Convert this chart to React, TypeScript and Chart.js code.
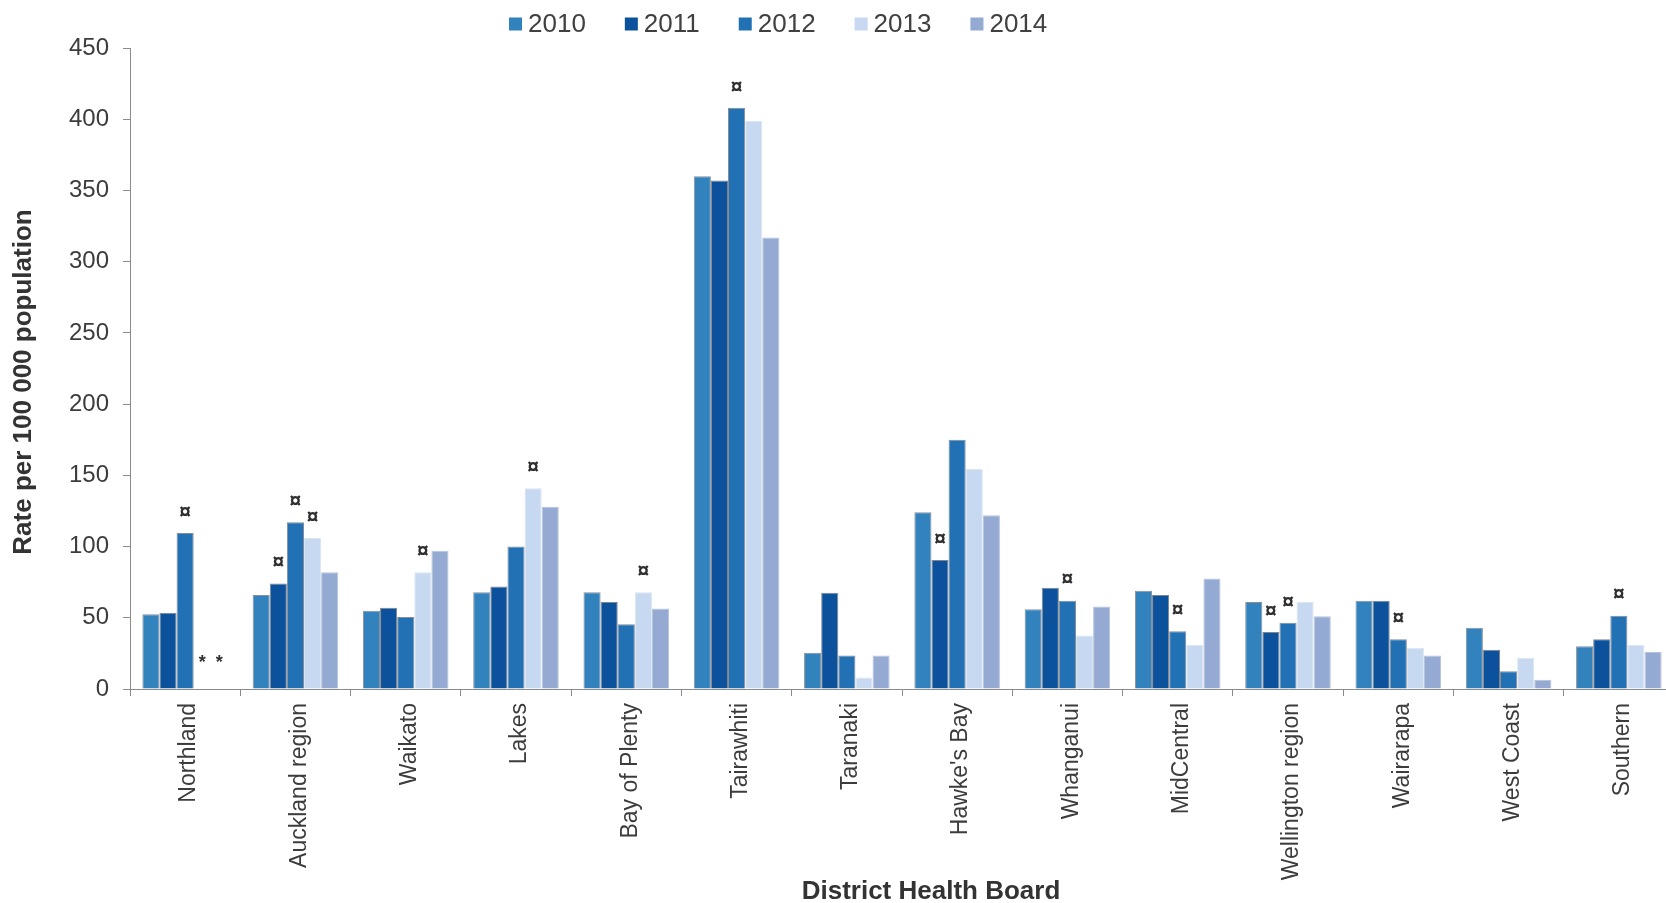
import React, { useEffect, useRef } from "react";
import { Chart, registerables } from "chart.js";

Chart.register(...registerables);

const FONT = "'Liberation Sans', Arial, Helvetica, sans-serif";

const categories = [
  "Northland",
  "Auckland region",
  "Waikato",
  "Lakes",
  "Bay of Plenty",
  "Tairawhiti",
  "Taranaki",
  "Hawke's Bay",
  "Whanganui",
  "MidCentral",
  "Wellington region",
  "Wairarapa",
  "West Coast",
  "Southern",
];

const years = ["2010", "2011", "2012", "2013", "2014"];

const values2010 = [52.5, 66, 55, 68, 68, 360, 25.5, 124, 56, 69, 61, 62, 43, 30];
const values2011 = [53.5, 74, 57, 72, 61, 357, 67.5, 90.5, 71, 66, 40, 62, 27.5, 35];
const values2012 = [109.5, 117, 50.5, 100, 45.5, 408, 23.5, 175, 62, 40.5, 46.5, 35, 12.5, 51.5];
const values2013 = [null, 106, 82, 141, 68, 399, 8, 154.5, 37.5, 31, 61, 29, 22, 31];
const values2014 = [null, 82, 97, 128, 56.5, 317, 23.5, 122, 58, 77.5, 51, 23.5, 6.5, 26];

const fillColors = ["#3282BE", "#0B519C", "#2271B5", "#C6D9F1", "#95AAD3"];
const edgeColors = ["#8a8f96", "#7f8590", "#848b94", "#dce5f2", "#b7c3dc"];

// [category index, year index] of bars flagged with ¤ (significant change)
const significantMarks: [number, number][] = [
  [0, 2], [1, 1], [1, 2], [1, 3], [2, 3], [3, 3], [4, 3], [5, 2],
  [7, 1], [8, 2], [9, 2], [10, 1], [10, 2], [11, 2], [13, 2],
];
// [category index, year index] of suppressed values shown as *
const suppressedMarks: [number, number][] = [[0, 3], [0, 4]];

const yMin = 0;
const yMax = 450;
const yStep = 50;

const yTitle = "Rate per 100 000 population";
const xTitle = "District Health Board";

const seriesValues = [values2010, values2011, values2012, values2013, values2014];

const overlayPlugin = {
  id: "overlay",
  afterDatasetsDraw(chart: any) {
    const ctx = chart.ctx as CanvasRenderingContext2D;
    ctx.save();
    ctx.fillStyle = "#2f2f2f";
    ctx.font = `bold 21px ${FONT}`;
    ctx.textAlign = "center";
    ctx.textBaseline = "middle";
    significantMarks.forEach(([ci, di]) => {
      const el = chart.getDatasetMeta(di).data[ci];
      if (el) ctx.fillText("¤", el.x, el.y - 21);
    });
    const y0 = chart.scales.y.getPixelForValue(0);
    ctx.font = `bold 18px ${FONT}`;
    suppressedMarks.forEach(([ci, di]) => {
      const el = chart.getDatasetMeta(di).data[ci];
      if (el) ctx.fillText("*", el.x, y0 - 26);
    });
    ctx.restore();
  },
  afterDraw(chart: any) {
    const ctx = chart.ctx as CanvasRenderingContext2D;
    ctx.save();
    // legend
    let x = 509;
    ctx.font = `26px ${FONT}`;
    ctx.textAlign = "left";
    ctx.textBaseline = "alphabetic";
    chart.data.datasets.forEach((ds: any) => {
      ctx.fillStyle = ds.backgroundColor;
      ctx.fillRect(x, 17.5, 13, 13);
      ctx.fillStyle = "#404040";
      ctx.fillText(ds.label, x + 19, 31.5);
      x += 19 + ctx.measureText(ds.label).width + 39;
    });
    // axis titles
    ctx.fillStyle = "#333333";
    ctx.font = `bold 26px ${FONT}`;
    ctx.textAlign = "center";
    ctx.fillText(xTitle, 931, 899);
    ctx.translate(24, 382);
    ctx.rotate(-Math.PI / 2);
    ctx.textBaseline = "middle";
    ctx.fillText(yTitle, 0, 0);
    ctx.restore();
  },
};

export default function App() {
  const ref = useRef<HTMLCanvasElement>(null);

  useEffect(() => {
    if (!ref.current) return;
    const chart = new Chart(ref.current, {
      type: "bar",
      data: {
        labels: categories,
        datasets: years.map((yr, i) => ({
          label: yr,
          data: seriesValues[i] as any,
          backgroundColor: fillColors[i],
          borderColor: edgeColors[i],
          borderWidth: { top: 1, left: 1, right: 1, bottom: 0 },
          borderSkipped: "bottom",
          categoryPercentage: 0.776,
          barPercentage: 1,
        })),
      },
      options: {
        animation: false,
        responsive: false,
        devicePixelRatio: 1,
        events: [],
        layout: { padding: { top: 48, right: 6, bottom: 0, left: 0 } },
        plugins: {
          legend: { display: false },
          tooltip: { enabled: false },
          title: { display: false },
        },
        scales: {
          x: {
            grid: {
              offset: true,
              drawOnChartArea: false,
              drawTicks: true,
              tickLength: 7,
              color: "#8a8a8a",
            },
            border: { display: true, color: "#8a8a8a", width: 1 },
            ticks: {
              color: "#3c3c3c",
              font: { family: FONT, size: 23 },
              minRotation: 90,
              maxRotation: 90,
              autoSkip: false,
              padding: 7,
              labelOffset: 4,
            },
            afterFit(scale: any) {
              scale.height = 214;
            },
          },
          y: {
            min: yMin,
            max: yMax,
            grid: {
              drawOnChartArea: false,
              drawTicks: true,
              tickLength: 7,
              color: "#8a8a8a",
            },
            border: { display: true, color: "#8a8a8a", width: 1 },
            ticks: {
              stepSize: yStep,
              color: "#3c3c3c",
              font: { family: FONT, size: 24 },
              padding: 14,
            },
            afterFit(scale: any) {
              scale.width = 130;
            },
          },
        },
      },
      plugins: [overlayPlugin],
    } as any);
    return () => chart.destroy();
  }, []);

  return (
    <div
      style={{
        position: "fixed",
        left: 0,
        top: 0,
        width: 1666,
        height: 903,
        overflow: "hidden",
        background: "#ffffff",
      }}
    >
      <canvas
        ref={ref}
        width={1680}
        height={903}
        style={{ display: "block", width: 1680, height: 903 }}
      />
    </div>
  );
}
